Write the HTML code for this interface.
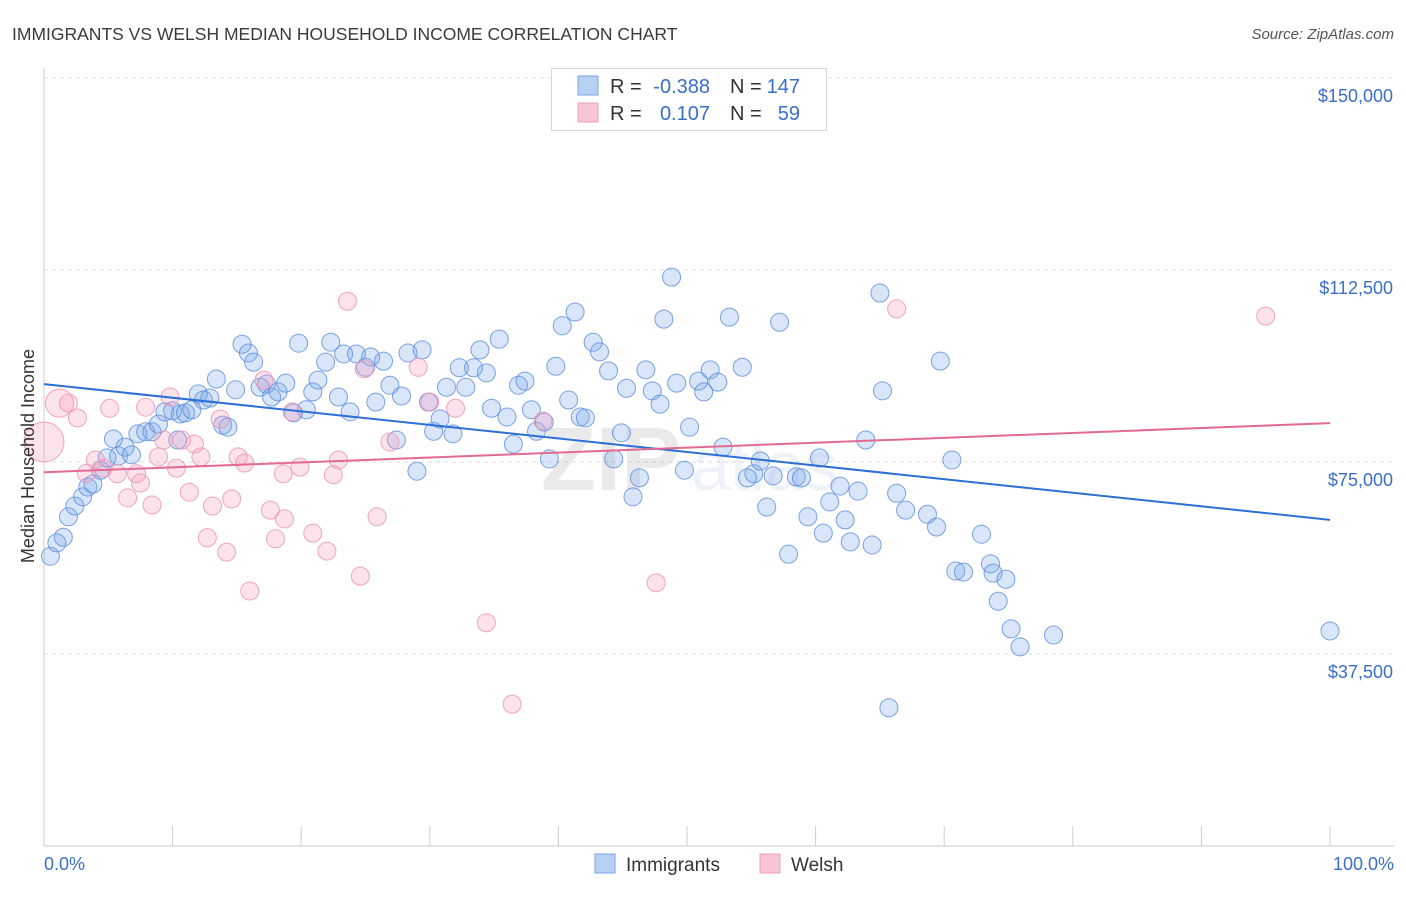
<!DOCTYPE html>
<html><head><meta charset="utf-8">
<style>
html,body{margin:0;padding:0;background:#fff;}
body{width:1406px;height:892px;overflow:hidden;font-family:"Liberation Sans",sans-serif;}
svg text{font-family:"Liberation Sans",sans-serif;}
</style></head>
<body>
<svg id="chart" width="1406" height="892" xmlns="http://www.w3.org/2000/svg">
<text x="12" y="40" font-size="17.5" fill="#3a3a3a">IMMIGRANTS VS WELSH MEDIAN HOUSEHOLD INCOME CORRELATION CHART</text>
<text x="1394" y="39" font-size="15" fill="#555" text-anchor="end" font-style="italic">Source: ZipAtlas.com</text>
<g id="grid"></g>
<text x="690" y="490" font-size="90" fill="#000" opacity="0.08" text-anchor="middle" font-family="Liberation Serif" font-weight="bold">ZIP<tspan font-family="Liberation Sans" font-weight="normal" font-size="70" fill="#3a6fc9" dx="10">atlas</tspan></text>
<g id="axes"></g>
<g id="pts"></g>
<g id="trends"></g>
<text transform="translate(34,456) rotate(-90)" font-size="18" fill="#333" text-anchor="middle">Median Household Income</text>
<text x="44" y="870" font-size="18" fill="#3a6fc9">0.0%</text>
<text x="1394" y="870" font-size="18" fill="#3a6fc9" text-anchor="end">100.0%</text>
<g>
<rect x="551.5" y="68.5" width="275" height="62" fill="#fff" stroke="#d8d8d8"/>
<rect x="578" y="76" width="20" height="19" fill="#b7d1f5" stroke="#7aa5e6"/>
<rect x="578" y="103" width="20" height="19" fill="#f8c5d4" stroke="#eda0b8"/>
<text x="610" y="93" font-size="20" fill="#333">R = </text>
<text x="710" y="93" font-size="20" fill="#3a6fc9" text-anchor="end">-0.388</text>
<text x="730" y="93" font-size="20" fill="#333">N = </text>
<text x="800" y="93" font-size="20" fill="#3a6fc9" text-anchor="end">147</text>
<text x="610" y="120" font-size="20" fill="#333">R = </text>
<text x="710" y="120" font-size="20" fill="#3a6fc9" text-anchor="end">0.107</text>
<text x="730" y="120" font-size="20" fill="#333">N = </text>
<text x="800" y="120" font-size="20" fill="#3a6fc9" text-anchor="end">59</text>
</g>
<g>
<rect x="595" y="854" width="20" height="19" fill="#b7d1f5" stroke="#7aa5e6"/>
<text x="626" y="871" font-size="19" fill="#333">Immigrants</text>
<rect x="760" y="854" width="20" height="19" fill="#f8c5d4" stroke="#eda0b8"/>
<text x="791" y="871" font-size="19" fill="#333">Welsh</text>
</g>
</svg>
<script>
const yTicks=[37500,75000,112500,150000];
const yTickLabels=["$37,500","$75,000","$112,500","$150,000"];
const xTicks=[0,10,20,30,40,50,60,70,80,90,100];
const blueX=[0.5,1.0,1.5,1.9,2.4,3.0,3.4,3.8,4.4,4.9,5.4,5.8,6.3,6.8,7.3,7.9,8.4,8.9,9.4,10.0,10.6,10.4,11.0,11.5,12.0,12.4,12.9,13.4,13.9,14.3,14.9,15.4,15.9,16.3,16.8,17.3,17.7,18.2,18.8,19.4,19.8,20.4,20.9,21.3,21.9,22.3,22.9,23.3,23.8,24.3,25.0,25.4,25.8,26.4,26.9,27.4,27.8,28.3,29.0,29.4,29.9,30.3,30.8,31.3,31.8,32.3,32.8,33.4,33.9,34.4,34.8,35.4,36.0,36.5,36.9,37.4,37.9,38.3,38.9,39.3,39.8,40.3,40.8,41.3,41.7,42.1,42.7,43.2,43.9,44.3,44.9,45.3,45.8,46.3,46.8,47.3,47.9,48.2,48.8,49.2,49.8,50.2,50.9,51.3,51.8,52.4,52.8,53.3,54.3,54.7,55.2,55.7,56.2,56.7,57.2,57.9,58.5,58.9,59.4,60.3,60.6,61.1,61.9,62.3,62.7,63.3,63.9,64.4,65.0,65.2,65.7,66.3,67.0,68.7,69.4,69.7,70.6,70.9,71.5,72.9,73.6,73.8,74.2,74.8,75.2,75.9,78.5,100];
const blueY=[56.6,59.2,60.3,64.3,66.4,68.2,70.1,70.7,73.4,75.8,79.5,76.2,77.9,76.4,80.5,80.9,80.9,82.4,84.8,85.0,84.4,79.3,84.6,85.2,88.3,87.1,87.5,91.2,82.2,81.8,89.1,98.0,96.3,94.5,89.6,90.2,87.7,88.7,90.4,84.6,98.2,85.2,88.7,91.0,94.5,98.4,87.7,96.1,84.8,96.1,93.5,95.5,86.7,94.7,90.0,79.3,87.9,96.3,73.2,96.9,86.7,81.0,83.4,89.6,80.5,93.4,89.6,93.4,96.9,92.4,85.5,99.0,83.8,78.5,90.0,90.8,85.2,81.0,82.8,75.6,93.7,101.6,87.1,104.3,83.8,83.6,98.4,96.5,92.8,75.6,80.7,89.4,68.2,71.9,93.0,88.9,86.3,102.9,111.1,90.4,73.4,81.8,90.8,88.7,93.0,90.6,77.9,103.3,93.5,71.9,72.7,75.2,66.2,72.3,102.3,57.0,72.1,71.9,64.3,75.8,61.1,67.2,70.3,63.7,59.4,69.3,79.3,58.8,108.0,88.9,27.0,68.9,65.6,64.8,62.3,94.7,75.4,53.7,53.5,60.9,55.1,53.3,47.8,52.1,42.4,38.9,41.2,42.0];
const pinkX=[0,1.2,1.9,2.6,3.3,4.0,4.6,5.1,5.7,6.5,7.2,7.5,7.9,8.4,8.9,9.3,9.8,10.3,10.7,11.3,11.7,12.2,12.7,13.1,13.7,14.2,14.6,15.1,15.6,16.0,17.1,17.6,18.0,18.6,18.7,19.3,19.9,20.9,22.0,22.5,22.9,23.6,24.6,24.9,25.9,26.9,29.1,30.0,32.0,34.4,36.4,38.8,47.6,66.3,95.0];
const pinkY=[78.9,86.5,86.5,83.6,72.8,75.4,73.8,85.5,72.7,68.0,72.7,70.9,85.7,66.6,76.0,79.3,87.7,73.8,79.3,69.1,78.5,76.0,60.2,66.4,83.4,57.4,67.8,76.0,74.8,49.8,91.0,65.6,60.0,72.7,63.9,84.8,74.0,61.1,57.6,72.5,75.4,106.4,52.7,93.2,64.3,78.9,93.5,86.7,85.5,43.6,27.7,83.0,51.4,104.9,103.5];
const pinkR=[20,14,9,9,9,9,9,9,9,9,9,9,9,9,9,9,9,9,9,9,9,9,9,9,9,9,9,9,9,9,9,9,9,9,9,9,9,9,9,9,9,9,9,9,9,9,9,9,9,9,9,9,9,9,9];
const blueTrend=[90.2,63.7];
const pinkTrend=[73.0,82.6];
const trendX=[0,100];

const NS="http://www.w3.org/2000/svg";
const X=p=>44+p*12.86;
const Y=k=>846-k*5.12;
function mk(tag,attrs,parent){const e=document.createElementNS(NS,tag);for(const k in attrs)e.setAttribute(k,attrs[k]);parent.appendChild(e);return e;}
const grid=document.getElementById('grid'),axes=document.getElementById('axes'),pts=document.getElementById('pts'),tr=document.getElementById('trends');
yTicks.forEach((t,i)=>{
  const y=Y(t/1000);
  const l=mk('line',{x1:44,x2:1394,y1:y,y2:y,stroke:'#dcdcdc','stroke-dasharray':'4,4'},grid);
  
  
  const tx=mk('text',{x:1393,y:y+24,'font-size':18,fill:'#3a6fc9','text-anchor':'end'},axes);
  tx.textContent=yTickLabels[i];
  
  
});
const yl=mk('line',{x1:44,x2:44,y1:68,y2:846,stroke:'#ccc'},axes);


const xl=mk('line',{x1:44,x2:1394,y1:846,y2:846,stroke:'#ccc'},axes);


xTicks.forEach(t=>{
  const l=mk('line',{x1:X(t),x2:X(t),y1:826,y2:846,stroke:'#ccc'},axes);
  
  
});
blueX.forEach((v,i)=>{
  const c=mk('circle',{cx:X(v),cy:Y(blueY[i]),r:9,fill:'rgba(120,165,235,0.28)',stroke:'rgba(90,140,220,0.8)','stroke-width':1},pts);
  
  
});
pinkX.forEach((v,i)=>{
  const c=mk('circle',{cx:X(v),cy:Y(pinkY[i]),r:pinkR[i],fill:'rgba(245,160,190,0.3)',stroke:'rgba(235,150,180,0.85)','stroke-width':1},pts);
  
  
});
const bl=mk('line',{x1:X(trendX[0]),x2:X(trendX[1]),y1:Y(blueTrend[0]),y2:Y(blueTrend[1]),stroke:'#2d6fd6','stroke-width':2},tr);


const pl=mk('line',{x1:X(trendX[0]),x2:X(trendX[1]),y1:Y(pinkTrend[0]),y2:Y(pinkTrend[1]),stroke:'#e26a94','stroke-width':2},tr);


</script>
</body></html>
